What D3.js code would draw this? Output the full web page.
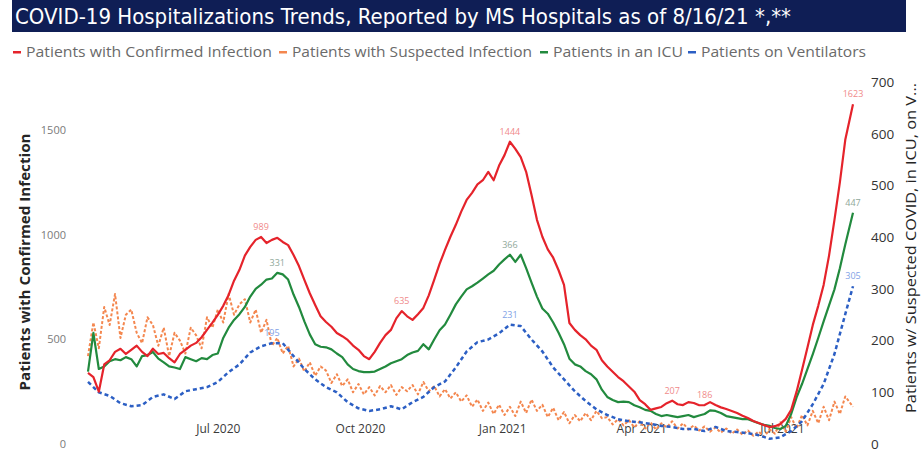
<!DOCTYPE html>
<html><head><meta charset="utf-8">
<script src="https://cdn.jsdelivr.net/npm/d3@7"></script>
<style>body{margin:0;background:#fff;} svg{display:block;}</style>
</head><body><svg id="c" width="922" height="465"></svg>
<script>
const titleText = "COVID-19 Hospitalizations Trends, Reported by MS Hospitals as of 8/16/21 *,**";
const seriesNames = ["Patients with Confirmed Infection", "Patients with Suspected Infection", "Patients in an ICU", "Patients on Ventilators"];
const seriesColors = ["#e5232b", "#f4874f", "#228a3e", "#2c5fc4"];
const leftAxisTitle = "Patients with Confirmed Infection";
const rightAxisTitle = "Patients w/ Suspected COVID, in ICU, on V...";
const leftTicks = [0, 500, 1000, 1500];
const rightTicks = [0, 100, 200, 300, 400, 500, 600, 700];
const xTickDates = ["2020-07-01", "2020-10-01", "2021-01-01", "2021-04-01", "2021-07-01"];
const xTickLabels = ["Jul 2020", "Oct 2020", "Jan 2021", "Apr 2021", "Jul 2021"];

// half-weekly readings from 2020-04-08 (last point 2021-08-16)
const confirmed = [340,320,250,380,400,440,455,430,450,470,440,420,455,430,435,410,390,430,450,470,
  483,510,545,580,617,660,712,780,832,900,942,975,989,960,975,985,965,950,903,850,
  784,720,664,610,583,560,530,515,497,470,450,420,405,440,483,520,545,600,635,610,
  593,620,650,710,784,860,927,990,1047,1110,1166,1200,1240,1260,1300,1260,1330,1380,1444,1410,
  1370,1300,1190,1071,990,930,890,830,760,578,545,520,500,470,450,400,370,345,320,300,
  275,250,210,190,163,170,177,195,207,190,186,200,196,185,186,200,186,175,167,158,
  148,135,124,110,100,90,81,85,96,120,163,250,354,460,569,660,760,900,1071,1250,
  1453,1623];
const icu = [140,215,145,150,160,164,162,168,164,150,170,172,178,165,158,150,148,145,168,164,
  160,166,164,172,175,205,225,240,251,265,285,300,308,318,320,331,328,318,289,265,
  237,212,193,188,187,183,175,168,154,145,141,139,139,140,145,150,156,160,164,172,
  177,180,193,183,202,220,231,250,270,285,299,305,312,320,328,335,347,357,366,352,
  366,340,312,285,262,252,235,215,193,165,154,150,141,135,125,105,91,85,81,82,
  81,75,71,66,64,58,54,56,54,52,54,56,52,55,58,65,64,60,54,52,
  50,48,48,44,40,37,35,31,29,35,58,90,116,145,174,205,237,268,299,340,
  386,447];
const suspected = [170,235,185,265,230,290,205,250,260,215,195,245,230,190,225,170,215,200,175,225,
  210,185,245,225,260,235,290,250,270,280,235,260,215,240,190,205,175,190,150,165,
  140,158,132,150,142,118,135,112,125,100,116,96,110,94,112,100,114,95,110,102,
  114,96,120,102,112,92,106,88,100,82,94,72,86,64,80,58,76,56,72,54,
  82,60,86,64,76,52,70,46,62,40,56,44,60,46,64,50,52,38,48,36,
  46,32,44,30,42,28,40,32,44,30,40,28,36,26,34,24,32,22,30,20,
  28,18,26,16,24,14,28,20,42,24,52,30,56,36,64,40,72,46,82,58,
  92,72];
// weekly readings from 2020-04-08 (last point 2021-08-16)
const ventilators = [120,100,93,79,73,75,91,96,87,102,106,110,120,139,154,177,189,195,195,170,145,125,110,100,81,69,64,67,73,67,81,91,110,121,148,179,197,202,214,231,228,202,179,148,125,102,83,67,56,48,44,42,39,35,33,29,29,25,33,25,23,21,17,10,13,25,44,77,116,174,251,305];

// data labels: [series index, point index]
const labelPoints = [[0,32],[0,58],[0,78],[0,108],[0,114],[0,141],[2,35],[2,78],[2,141],[3,17],[3,39],[3,71]];

const parse = d3.timeParse("%Y-%m-%d");
const start = parse("2020-04-08");
const end = parse("2021-08-16");
const weekDates = d3.timeDay.range(start, parse("2021-08-12"), 7).concat([end]);
const halfDates = confirmed.map((_, i) => i === confirmed.length - 1 ? end : new Date(start.getTime() + i * 3.5 * 864e5));

const svg = d3.select("#c");
const x = d3.scaleTime().domain([start, end]).range([88, 853]);
const yL = d3.scaleLinear().domain([0, 1500]).range([444, 130]);
const yR = d3.scaleLinear().domain([0, 700]).range([444, 82]);

// title bar
svg.append("rect").attr("x", 12).attr("y", 0).attr("width", 894).attr("height", 32).attr("fill", "#0f1e55");
svg.append("text").attr("x", 15).attr("y", 24).attr("fill", "#fff")
  .attr("font-family", "DejaVu Sans, sans-serif").attr("font-size", 21)
  .attr("textLength", 776).attr("lengthAdjust", "spacingAndGlyphs").text(titleText);

// legend
const legX = [13, 279, 540, 688];
const legW = [246, 240, 130, 165];
seriesNames.forEach((n, i) => {
  svg.append("rect").attr("x", legX[i]).attr("y", 51).attr("width", 8).attr("height", 2.5).attr("fill", seriesColors[i]);
  svg.append("text").attr("x", legX[i] + 13).attr("y", 57).attr("fill", "#6a6a6a")
    .attr("font-family", "Open Sans, sans-serif").attr("font-size", 15)
    .attr("textLength", legW[i]).attr("lengthAdjust", "spacingAndGlyphs").text(n);
});

// axes
const gL = svg.append("g").attr("transform", "translate(66,0)")
  .call(d3.axisLeft(yL).tickValues(leftTicks).tickFormat(d3.format("d")).tickSize(0).tickPadding(0));
gL.select(".domain").remove();
gL.selectAll("text").attr("fill", "#7a7a7a").attr("font-family", "Open Sans, sans-serif").attr("font-size", 11);

const gR = svg.append("g").attr("transform", "translate(871,0)")
  .call(d3.axisRight(yR).tickValues(rightTicks).tickFormat(d3.format("d")).tickSize(0).tickPadding(0));
gR.select(".domain").remove();
gR.selectAll("text").attr("fill", "#333").attr("font-family", "Open Sans, sans-serif").attr("font-size", 13.5);

const gX = svg.append("g").attr("transform", "translate(0,424)")
  .call(d3.axisBottom(x).tickValues(xTickDates.map(parse)).tickFormat((d, i) => xTickLabels[i]).tickSize(0).tickPadding(0));
gX.select(".domain").remove();
gX.selectAll("text").attr("fill", "#3a3a3a").attr("font-family", "Open Sans, sans-serif").attr("font-size", 12);

// axis titles
svg.append("text").attr("transform", "translate(30,262) rotate(-90)").attr("text-anchor", "middle")
  .attr("font-family", "Open Sans, sans-serif").attr("font-weight", "bold").attr("font-size", 14).attr("fill", "#252525")
  .attr("textLength", 257).attr("lengthAdjust", "spacingAndGlyphs").text(leftAxisTitle);
svg.append("text").attr("transform", "translate(916,248) rotate(-90)").attr("text-anchor", "middle")
  .attr("font-family", "Open Sans, sans-serif").attr("font-size", 14).attr("fill", "#252525")
  .attr("textLength", 330).attr("lengthAdjust", "spacingAndGlyphs").text(rightAxisTitle);

// lines
const series = [
  {vals: confirmed, dates: halfDates, y: yL, color: seriesColors[0], dash: null, w: 2.2},
  {vals: suspected, dates: halfDates, y: yR, color: seriesColors[1], dash: "3,2", w: 2},
  {vals: icu, dates: halfDates, y: yR, color: seriesColors[2], dash: null, w: 2.2},
  {vals: ventilators, dates: weekDates, y: yR, color: seriesColors[3], dash: "4,3", w: 2.5}
];
[1, 3, 2, 0].forEach(si => {
  const s = series[si];
  const line = d3.line().x((d, i) => x(s.dates[i])).y(d => s.y(d));
  svg.append("path").datum(s.vals).attr("d", line).attr("fill", "none")
    .attr("stroke", s.color).attr("stroke-width", s.w).attr("stroke-linejoin", "round")
    .attr("stroke-dasharray", s.dash);
});

// data labels
const labelColors = ["#f08a8a", "#f5a57a", "#8fa89a", "#7fa2e6"];
labelPoints.forEach(([si, pi]) => {
  const s = series[si];
  svg.append("text").attr("x", x(s.dates[pi])).attr("y", s.y(s.vals[pi]) - 7)
    .attr("text-anchor", "middle").attr("font-family", "Open Sans, sans-serif").attr("font-size", 9)
    .attr("fill", labelColors[si]).text(s.vals[pi]);
});
</script></body></html>
